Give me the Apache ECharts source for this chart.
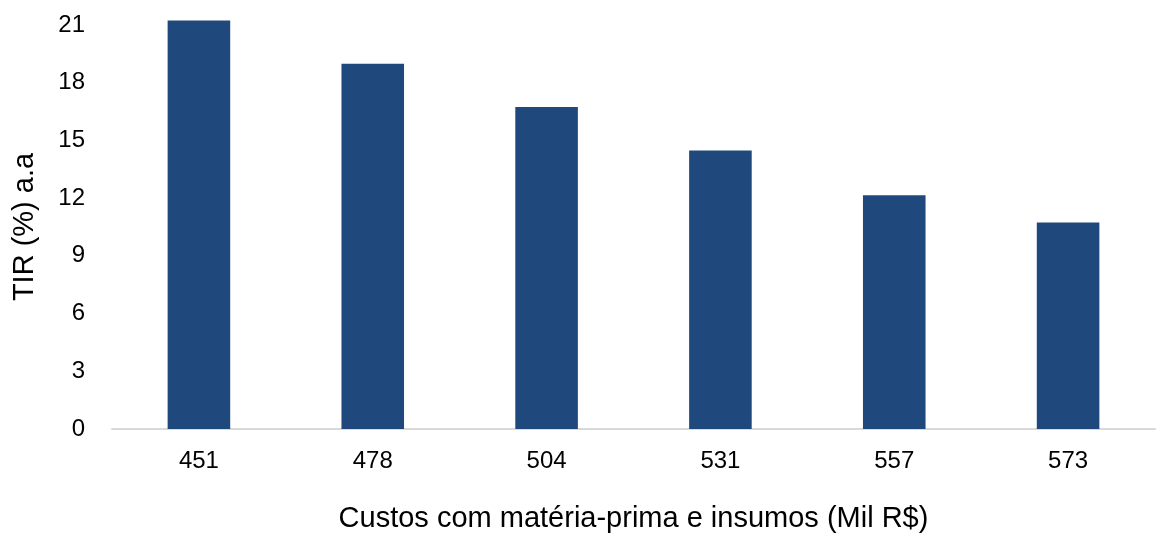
<!DOCTYPE html>
<html>
<head>
<meta charset="utf-8">
<script src="https://cdn.jsdelivr.net/npm/echarts@6/dist/echarts.min.js"></script>
<style>
  html, body { margin: 0; padding: 0; background: #ffffff; }
  #chart { width: 1159px; height: 533px; }
</style>
</head>
<body>
<div id="chart"></div>
<script>
// Raw material and input costs (thousand R$) and the resulting IRR (% per year)
const categories = ['451', '478', '504', '531', '557', '573'];
const tirValues = [21.24, 18.99, 16.74, 14.47, 12.15, 10.74];
const yTicks = { min: 0, max: 21, interval: 3 };
const xTitle = 'Custos com matéria-prima e insumos (Mil R$)';
const yTitle = 'TIR (%) a.a';

const font = 'Liberation Sans, Arial, sans-serif';
const chart = echarts.init(document.getElementById('chart'), null, { renderer: 'canvas' });

chart.setOption({
  animation: false,
  backgroundColor: '#ffffff',
  grid: {
    left: 112, right: 4, top: 25, bottom: 104,
    containLabel: false,
    outerBoundsMode: 'none'
  },
  xAxis: {
    type: 'category',
    data: categories,
    name: xTitle,
    nameLocation: 'middle',
    nameGap: 75,
    nameTextStyle: { fontFamily: font, fontSize: 29, color: '#000000' },
    axisLine: { show: true, lineStyle: { color: '#d9d9d9', width: 2 } },
    axisTick: { show: false },
    axisLabel: { fontFamily: font, fontSize: 24, color: '#000000', margin: 20 }
  },
  yAxis: {
    type: 'value',
    min: yTicks.min,
    max: yTicks.max,
    interval: yTicks.interval,
    name: yTitle,
    nameLocation: 'middle',
    nameGap: 73,
    nameRotate: 90,
    nameTextStyle: { fontFamily: font, fontSize: 29, color: '#000000' },
    axisLine: { show: false },
    axisTick: { show: false },
    splitLine: { show: false },
    axisLabel: { fontFamily: font, fontSize: 24, color: '#000000', margin: 27 }
  },
  series: [{
    type: 'bar',
    data: tirValues,
    barWidth: '36%',
    clip: false,
    itemStyle: { color: '#1f497d' }
  }]
});
</script>
</body>
</html>
